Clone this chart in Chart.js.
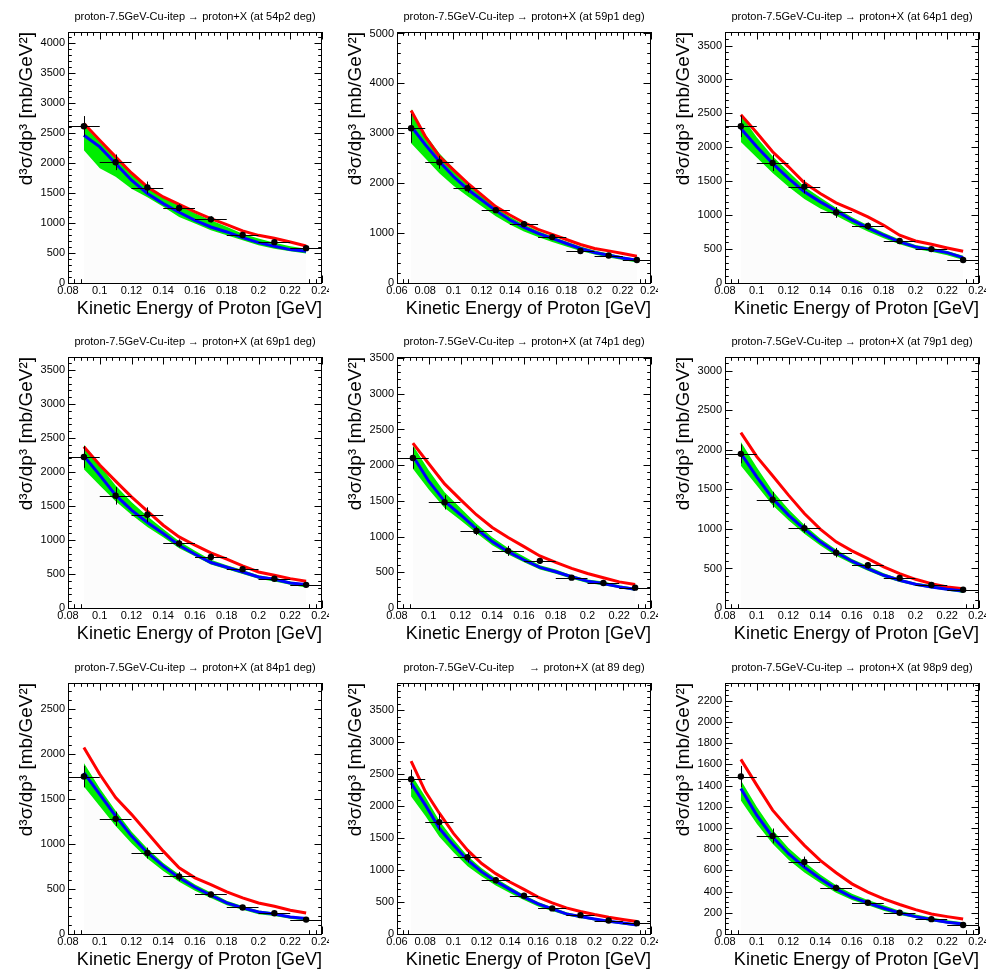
<!DOCTYPE html>
<html>
<head>
<meta charset="utf-8">
<title>proton-7.5GeV-Cu-itep → proton+X</title>
<script src="https://cdn.jsdelivr.net/npm/chart.js@4.4.0/dist/chart.umd.min.js"></script>
<style>
  html, body { margin: 0; padding: 0; background: #fff; }
  #page { position: relative; width: 996px; height: 972px; overflow: hidden; background: #fff; }
  .pad { position: absolute; width: 329px; height: 325px; overflow: hidden; }
</style>
</head>
<body>
<div id="page"></div>
<script>
// titres des 9 pads (angle du proton)
const titles = [
  'proton-7.5GeV-Cu-itep → proton+X (at 54p2 deg)',
  'proton-7.5GeV-Cu-itep → proton+X (at 59p1 deg)',
  'proton-7.5GeV-Cu-itep → proton+X (at 64p1 deg)',
  'proton-7.5GeV-Cu-itep → proton+X (at 69p1 deg)',
  'proton-7.5GeV-Cu-itep → proton+X (at 74p1 deg)',
  'proton-7.5GeV-Cu-itep → proton+X (at 79p1 deg)',
  'proton-7.5GeV-Cu-itep → proton+X (at 84p1 deg)',
  'proton-7.5GeV-Cu-itep     → proton+X (at 89 deg)',
  'proton-7.5GeV-Cu-itep → proton+X (at 98p9 deg)'
];

// axes
const xMin = [0.08, 0.06, 0.08, 0.08, 0.08, 0.08, 0.08, 0.06, 0.08];
const xMax = 0.24;
const xStep = 0.02;
const yMax = [4180, 5030, 3700, 3690, 3515, 3175, 2790, 3925, 2367];
const yStep = [500, 1000, 500, 500, 500, 500, 500, 500, 200];
const yMinor = [5, 5, 5, 5, 5, 5, 5, 5, 4];

// energies des points mesures et des courbes
const energy8 = [0.09, 0.11, 0.13, 0.15, 0.17, 0.19, 0.21, 0.23];
const energy9 = [0.07, 0.09, 0.11, 0.13, 0.15, 0.17, 0.19, 0.21, 0.23];
const curveE8 = [0.09, 0.10, 0.11, 0.12, 0.13, 0.14, 0.15, 0.16, 0.17, 0.18, 0.19, 0.20, 0.21, 0.22, 0.23];
const curveE9 = [0.07, 0.08, 0.09, 0.10, 0.11, 0.12, 0.13, 0.14, 0.15, 0.16, 0.17, 0.18, 0.19, 0.20, 0.21, 0.22, 0.23];
const binHalf = 0.01;

// donnees (mb/GeV2)
const measured = [
  [2610, 2010, 1590, 1250, 1060, 800, 680, 580],
  [3100, 2420, 1900, 1460, 1180, 920, 640, 550, 460],
  [2310, 1770, 1420, 1040, 840, 620, 500, 340],
  [2220, 1650, 1370, 950, 750, 570, 430, 340],
  [2100, 1480, 1080, 800, 660, 425, 350, 285],
  [1950, 1370, 1010, 700, 540, 380, 290, 230],
  [1750, 1280, 900, 640, 440, 295, 230, 160],
  [2420, 1750, 1200, 840, 600, 400, 295, 210, 170],
  [1485, 925, 680, 435, 295, 200, 140, 85]
];
const measuredErr = [
  [170, 130, 100, 60, 50, 40, 40, 30],
  [290, 130, 90, 60, 60, 40, 30, 25, 20],
  [160, 120, 100, 80, 50, 40, 30, 25],
  [160, 130, 110, 60, 50, 40, 30, 25],
  [150, 100, 60, 70, 40, 30, 25, 20],
  [120, 100, 60, 60, 40, 30, 25, 20],
  [120, 80, 60, 50, 30, 20, 20, 15],
  [150, 130, 80, 50, 40, 25, 20, 15, 15],
  [100, 70, 50, 30, 20, 15, 12, 10]
];

// modele rouge
const modelRed = [
  [2656, 2378, 2100, 1833, 1600, 1433, 1311, 1183, 1072, 972, 867, 794, 744, 683, 615],
  [3456, 2939, 2537, 2268, 2000, 1765, 1530, 1362, 1208, 1074, 973, 872, 772, 691, 644, 591, 537],
  [2480, 2215, 1935, 1713, 1477, 1319, 1182, 1083, 975, 852, 704, 620, 571, 517, 468],
  [2370, 2101, 1865, 1635, 1424, 1217, 1045, 923, 810, 717, 619, 530, 481, 432, 393],
  [2310, 2020, 1738, 1517, 1306, 1128, 987, 860, 728, 639, 554, 484, 423, 366, 329],
  [2218, 1914, 1673, 1428, 1196, 997, 837, 722, 625, 520, 435, 363, 308, 266, 245],
  [2073, 1776, 1516, 1330, 1126, 921, 736, 624, 550, 468, 401, 345, 308, 264, 234],
  [2702, 2230, 1889, 1574, 1312, 1102, 944, 813, 698, 577, 488, 409, 352, 304, 262, 226, 194],
  [1647, 1404, 1168, 994, 836, 694, 578, 473, 395, 331, 278, 230, 189, 164, 142]
];
// modele bleu
const modelBlue = [
  [2461, 2267, 1989, 1711, 1489, 1322, 1178, 1044, 933, 850, 756, 672, 611, 556, 528],
  [3141, 2772, 2436, 2134, 1879, 1664, 1450, 1262, 1114, 993, 893, 792, 691, 611, 557, 503, 456],
  [2279, 2009, 1763, 1541, 1344, 1196, 1063, 926, 812, 704, 606, 532, 492, 448, 374],
  [2234, 1954, 1659, 1438, 1257, 1095, 923, 790, 668, 599, 530, 457, 422, 368, 344],
  [2128, 1776, 1494, 1306, 1109, 930, 789, 672, 568, 507, 437, 376, 343, 296, 263],
  [1956, 1660, 1386, 1175, 997, 837, 701, 592, 499, 414, 351, 300, 266, 237, 215],
  [1794, 1553, 1311, 1088, 903, 754, 624, 520, 431, 345, 290, 245, 223, 189, 171],
  [2361, 2020, 1653, 1390, 1154, 971, 824, 698, 577, 472, 394, 315, 273, 236, 199, 173, 142],
  [1373, 1120, 915, 757, 631, 521, 426, 347, 294, 243, 199, 164, 136, 110, 95]
];
// bande verte (bas / haut)
const bandLow = [
  [2210, 1910, 1770, 1570, 1430, 1270, 1100, 990, 880, 795, 710, 630, 570, 530, 490],
  [2800, 2500, 2200, 1950, 1740, 1540, 1340, 1170, 1030, 920, 820, 730, 640, 570, 510, 460, 410],
  [2080, 1850, 1620, 1420, 1240, 1100, 990, 870, 760, 660, 570, 500, 460, 410, 340],
  [2040, 1800, 1570, 1370, 1190, 1040, 880, 760, 640, 570, 500, 430, 390, 340, 300],
  [1950, 1660, 1400, 1230, 1050, 880, 750, 640, 540, 480, 410, 350, 320, 280, 240],
  [1800, 1550, 1300, 1110, 940, 790, 660, 560, 470, 390, 330, 280, 250, 220, 190],
  [1640, 1420, 1200, 1010, 840, 700, 580, 480, 400, 320, 270, 220, 200, 170, 150],
  [2150, 1850, 1520, 1280, 1060, 900, 760, 640, 530, 430, 360, 290, 250, 210, 180, 150, 120],
  [1260, 1040, 850, 700, 580, 480, 390, 320, 270, 220, 180, 150, 120, 100, 80]
];
const bandHigh = [
  [2630, 2350, 2120, 1850, 1600, 1430, 1290, 1160, 1045, 935, 820, 740, 670, 610, 570],
  [3480, 2980, 2600, 2300, 2000, 1760, 1520, 1330, 1170, 1040, 930, 830, 730, 650, 590, 530, 480],
  [2480, 2150, 1870, 1640, 1420, 1260, 1110, 970, 850, 740, 640, 560, 520, 470, 400],
  [2400, 2100, 1800, 1560, 1350, 1160, 980, 840, 710, 630, 560, 480, 440, 390, 350],
  [2280, 1930, 1620, 1400, 1180, 990, 840, 720, 600, 540, 460, 400, 370, 320, 280],
  [2100, 1780, 1480, 1250, 1050, 880, 740, 620, 530, 440, 370, 320, 290, 260, 230],
  [1900, 1620, 1370, 1140, 950, 790, 660, 550, 460, 370, 310, 260, 240, 200, 180],
  [2500, 2150, 1770, 1480, 1220, 1030, 870, 740, 610, 500, 420, 340, 290, 250, 215, 190, 160],
  [1450, 1200, 980, 810, 680, 560, 460, 380, 320, 270, 220, 185, 155, 130, 110]
];

Chart.defaults.font.family = "'Liberation Sans', Arial, Helvetica, sans-serif";
Chart.defaults.color = '#000';

// cadre + graduations vers l'interieur (style ROOT), barres d'erreur
function drawTicks(ctx, scale, nMinor, horiz, area) {
  const majors = scale.ticks.map(t => t.value);
  const step = majors[1] - majors[0];
  const minorStep = step / nMinor;
  const first = majors[0] - Math.floor((majors[0] - scale.min) / minorStep + 1e-6) * minorStep;
  for (let k = 0; ; k++) {
    const v = first + k * minorStep;
    if (v > scale.max + minorStep * 1e-3) break;
    const r = (v - majors[0]) / step;
    const major = Math.abs(r - Math.round(r)) < 1e-4;
    const len = major ? 7.5 : 3.8;
    const p = Math.round(scale.getPixelForValue(v)) + 0.5;
    if (horiz) {
      ctx.moveTo(p, area.bottom); ctx.lineTo(p, area.bottom - len);
      ctx.moveTo(p, area.top); ctx.lineTo(p, area.top + len);
    } else {
      ctx.moveTo(area.left, p); ctx.lineTo(area.left + len, p);
      ctx.moveTo(area.right, p); ctx.lineTo(area.right - len, p);
    }
  }
}

// graduations majeures regulieres a partir du pas
function stepTicks(scale, start, step) {
  const t = [];
  for (let k = 0; ; k++) {
    const v = +(start + k * step).toFixed(6);
    if (v > scale.max + step * 1e-6) break;
    t.push({ value: v });
  }
  scale.ticks = t;
}

const rootFrame = {
  id: 'rootFrame',
  beforeDatasetsDraw(chart, args, opts) {
    const {ctx, chartArea: a, scales: {x, y}} = chart;
    ctx.save();
    ctx.strokeStyle = '#000';
    ctx.lineWidth = 1;
    ctx.beginPath();
    drawTicks(ctx, x, 5, true, a);
    drawTicks(ctx, y, opts.yMinor, false, a);
    ctx.stroke();
    ctx.restore();
  },
  afterDatasetsDraw(chart) {
    const {ctx, chartArea: a, scales: {x, y}} = chart;
    ctx.save();
    ctx.beginPath();
    ctx.rect(a.left, a.top, a.right - a.left, a.bottom - a.top);
    ctx.clip();
    ctx.strokeStyle = '#000';
    ctx.lineWidth = 1;
    ctx.beginPath();
    chart.data.datasets.forEach(ds => {
      if (!ds.errY) return;
      ds.data.forEach((d, k) => {
        const px = Math.round(x.getPixelForValue(d.x)) + 0.5;
        const py = Math.round(y.getPixelForValue(d.y)) + 0.5;
        ctx.moveTo(x.getPixelForValue(d.x - ds.errX), py);
        ctx.lineTo(x.getPixelForValue(d.x + ds.errX), py);
        ctx.moveTo(px, y.getPixelForValue(d.y - ds.errY[k]));
        ctx.lineTo(px, y.getPixelForValue(d.y + ds.errY[k]));
      });
    });
    ctx.stroke();
    ctx.restore();
    // cadre
    ctx.save();
    ctx.strokeStyle = '#000';
    ctx.lineWidth = 1;
    ctx.strokeRect(a.left + 0.5, a.top + 0.5, a.right - a.left - 1, a.bottom - a.top);
    ctx.restore();
  }
};

const page = document.getElementById('page');
const padX = [0, 329, 657];
const padY = [0, 325, 651];
const pts = (xs, ys) => xs.map((v, k) => ({x: v, y: ys[k]}));

titles.forEach((title, i) => {
  const div = document.createElement('div');
  div.className = 'pad';
  div.style.left = padX[i % 3] + 'px';
  div.style.top = padY[Math.floor(i / 3)] + 'px';
  const canvas = document.createElement('canvas');
  canvas.width = 329;
  canvas.height = 325;
  div.appendChild(canvas);
  page.appendChild(div);

  const ex = measured[i].length === 9 ? energy9 : energy8;
  const cx = modelRed[i].length === 17 ? curveE9 : curveE8;

  new Chart(canvas, {
    type: 'scatter',
    data: {
      datasets: [
        { label: 'data', data: pts(ex, measured[i]), errY: measuredErr[i], errX: binHalf,
          pointRadius: 3.2, pointBackgroundColor: '#000', pointBorderColor: '#000', pointBorderWidth: 0, showLine: false },
        { label: 'blue', data: pts(cx, modelBlue[i]), borderColor: '#0000ff', borderWidth: 3,
          pointRadius: 0, showLine: true, fill: false },
        { label: 'red', data: pts(cx, modelRed[i]), borderColor: '#ff0000', borderWidth: 3,
          pointRadius: 0, showLine: true, fill: false },
        { label: 'band high', data: pts(cx, bandHigh[i]), borderWidth: 0, borderColor: 'rgba(0,0,0,0)',
          pointRadius: 0, showLine: true, fill: '+1', backgroundColor: '#00ee00' },
        { label: 'band low', data: pts(cx, bandLow[i]), borderWidth: 0, borderColor: 'rgba(0,0,0,0)',
          pointRadius: 0, showLine: true, fill: 'origin', backgroundColor: '#fcfcfc' }
      ]
    },
    options: {
      responsive: false,
      animation: false,
      events: [],
      layout: { padding: { left: 0, top: 0, right: 7, bottom: 0 } },
      plugins: {
        legend: { display: false },
        tooltip: { enabled: false },
        title: {
          display: true, text: title, fullSize: false, color: '#000',
          font: { size: 11, weight: 'normal' }, padding: { top: 10.6, bottom: 8.2 }
        },
        rootFrame: { yMinor: yMinor[i] }
      },
      scales: {
        x: {
          type: 'linear', position: 'bottom', min: xMin[i], max: xMax,
          ticks: { padding: 1, color: '#000', font: { size: 11 },
                   maxRotation: 0, autoSkip: false,
                   callback: v => String(+v.toFixed(2)) },
          grid: { display: false, drawTicks: false },
          border: { display: false },
          title: { display: true, text: 'Kinetic Energy of Proton [GeV]', align: 'end', color: '#000',
                   font: { size: 18 }, padding: { top: 0, bottom: 5.4 } },
          afterBuildTicks: s => stepTicks(s, xMin[i], xStep),
          afterFit: s => { s.height = 42; s.paddingLeft = 0; s.paddingRight = 0; }
        },
        y: {
          type: 'linear', position: 'left', min: 0, max: yMax[i],
          ticks: { padding: 3, color: '#000', font: { size: 11 },
                   autoSkip: false, callback: v => String(v) },
          grid: { display: false, drawTicks: false },
          border: { display: false },
          title: { display: true, text: 'd³σ/dp³ [mb/GeV²]', align: 'end', color: '#000',
                   font: { size: 19 }, padding: { top: 15.8, bottom: 0 } },
          afterBuildTicks: s => stepTicks(s, 0, yStep[i]),
          afterFit: s => { s.width = 68; s.paddingTop = 0; s.paddingBottom = 0; }
        }
      }
    },
    plugins: [rootFrame]
  });
});
</script>
</body>
</html>
